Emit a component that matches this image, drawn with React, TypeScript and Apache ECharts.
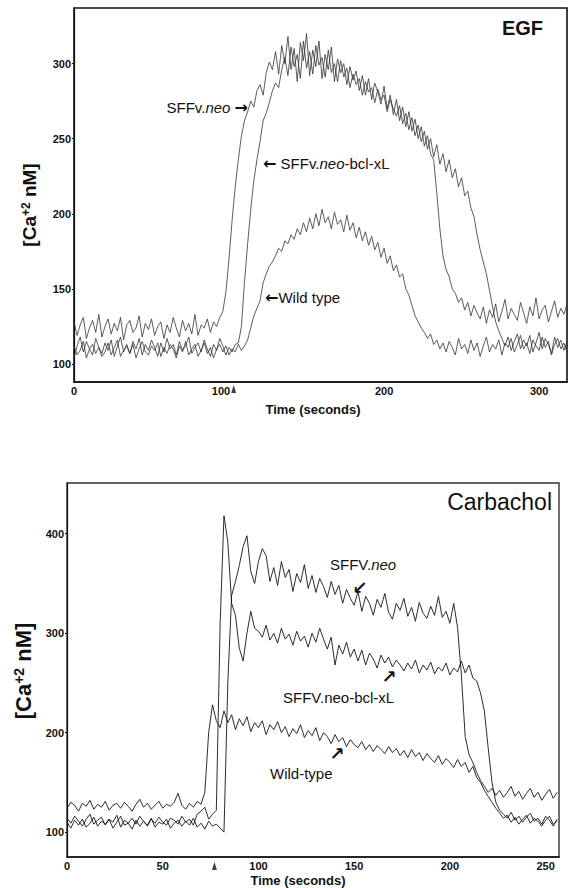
import React, { useEffect, useRef } from "react";
import * as echarts from "echarts";

// ---------- EGF panel (sampled every 2 s) ----------
const EGF_DT = 2;
const EGF_X_TICKS = [0, 100, 200, 300];
const EGF_Y_TICKS = [100, 150, 200, 250, 300];
const EGF_X_MAX = 318;
const EGF_Y_MIN = 88;
const EGF_Y_MAX = 337;
const EGF_STIM = 103;

const EGF_NEO_BASE = [
  128, 119, 126, 131, 117, 124, 129, 121, 133, 118,
  125, 130, 120, 127, 122, 131, 116, 126, 129, 121,
  124, 132, 118, 127, 123, 130, 119, 125, 128, 117,
  126, 121, 131, 124, 118, 129, 122, 127, 120, 133,
  119, 126, 124, 130, 121, 128, 125, 131,
];
const EGF_NEO_RESP = [
  135, 148, 170, 196, 218, 236, 252, 262, 268, 275,
  271, 282, 286, 279, 294, 301, 296, 308, 293, 312,
  300, 318, 296, 310, 288, 314, 302, 320, 292, 309,
  298, 315, 290, 306, 296, 311, 288, 303, 294, 300,
  286, 298, 289, 295, 282, 292, 279, 290, 276, 287,
  281, 273, 285, 270, 279, 266, 276, 262, 271, 258,
  268, 255, 263, 250, 258, 245, 252, 240, 236, 214,
  190, 172, 163, 158, 150, 147, 141, 144, 136, 141,
  132, 139, 134, 130, 138, 127, 136, 131, 140, 128,
  135, 143, 130, 137, 133, 129, 141, 134, 127, 138,
  132, 144, 130, 136, 139, 128, 135, 142, 131, 137,
  133, 140,
];
const EGF_BCL_BASE = [
  104, 112, 118, 108, 115, 110, 106, 117, 111, 107,
  114, 109, 116, 105, 112, 118, 108, 113, 107, 115,
  110, 117, 106, 113, 109, 116, 111, 105, 114, 108,
  117, 110, 113, 106, 115, 109, 112, 118, 107, 111,
  114, 108, 116, 110, 105, 113, 109, 117, 112, 106,
  111, 108, 113,
];
const EGF_BCL_RESP = [
  114, 125, 155, 180, 203, 222, 236, 248, 262, 267,
  274, 282, 287, 284, 296, 304, 292, 311, 298, 306,
  290, 315, 297, 308, 293, 312, 299, 304, 291, 309,
  294, 300, 288, 302, 291, 297, 284, 293, 286, 290,
  279, 288, 281, 284, 274, 283, 276, 279, 268, 276,
  270, 265, 272, 260, 267, 256, 264, 252, 259, 248,
  255, 243, 250, 238, 246, 233, 240, 228, 236, 224,
  230, 218, 224, 212, 215, 204, 198, 186, 176, 168,
  160, 149, 138, 128, 122, 117, 112, 118, 109, 115,
  120, 110, 116, 112, 119, 108, 114, 121, 110, 117,
  113, 107, 118, 111, 116, 109, 115,
];
const EGF_WT_BASE = [
  112, 106, 109, 115, 104, 110, 113, 107, 111, 105,
  108, 114, 106, 111, 116, 105, 109, 112, 107, 113,
  104, 110, 115, 108, 106, 112, 109, 114, 105, 111,
  107, 113, 110, 104, 112, 108, 115, 106, 110, 113,
  105, 109, 114, 107, 111, 104, 110, 113, 108, 112,
  106, 110, 108, 113, 109,
];
const EGF_WT_RESP = [
  112, 116, 124, 132, 137, 142, 154, 160, 165, 168,
  172, 177, 175, 182, 180, 186, 183, 190, 186, 194,
  188, 197, 190, 200, 192, 203, 194, 198, 190, 201,
  193, 196, 188, 199, 189, 194, 184, 191, 182, 188,
  179, 185, 176, 181, 171, 177, 167, 172, 162, 166,
  158, 160, 150, 146, 139, 132, 128, 124, 121, 117,
  120, 113, 116, 110, 114, 108, 115, 111, 106, 117,
  110, 113, 107, 116, 109, 114, 105, 112, 118, 108,
  113, 110, 116, 106, 114, 111, 117, 108, 113, 119,
  110, 114, 107, 116, 112, 109, 118, 111, 115, 106,
  113, 117, 110, 114, 108,
];

// ---------- Carbachol panel (sampled every 2 s) ----------
const CAR_DT = 2;
const CAR_X_TICKS = [0, 50, 100, 150, 200, 250];
const CAR_Y_TICKS = [100, 200, 300, 400];
const CAR_X_MAX = 257;
const CAR_Y_MIN = 75;
const CAR_Y_MAX = 451;
const CAR_STIM = 77;

const CAR_NEO_BASE = [
  110, 104, 112, 107, 113, 105, 109, 115, 106, 111,
  108, 113, 104, 110, 116, 107, 109, 103, 112, 106,
  111, 107, 114, 105, 110, 108, 113, 104, 109, 112,
  106, 111, 107, 114, 105, 109, 103, 111, 106, 108,
  104, 100,
];
const CAR_NEO_RESP = [
  250, 338, 352, 368, 387, 398, 362, 350, 372, 385,
  378, 352, 366, 348, 372, 356, 364, 342, 360, 351,
  369, 345, 358, 341, 355, 347, 336, 352, 339, 348,
  330, 344, 335, 328, 342, 322, 337, 330, 318, 334,
  326, 340, 321, 314, 330, 323, 335, 317, 326, 312,
  331, 320, 315, 327, 318, 337, 316, 322, 310, 330,
  306, 258, 196, 178, 170, 160, 152, 146, 140, 144,
  137, 142, 135, 140, 146, 136, 141, 133, 139, 144,
  135, 140, 132, 138, 143, 134, 140,
];
const CAR_BCL_BASE = [
  114, 109, 116, 111, 106, 113, 118, 108, 112, 115,
  107, 113, 110, 117, 105, 112, 109, 114, 108, 116,
  111, 106, 113, 109, 115, 110, 107, 114, 112, 108,
  116, 110, 113, 107, 118, 121, 125, 113, 118,
];
const CAR_BCL_RESP = [
  122, 310, 418, 392, 330, 318, 285, 272, 300, 322,
  305, 302, 296, 308, 293, 300, 290, 305, 294, 299,
  288, 302, 292, 297, 286, 300, 291, 305, 294, 284,
  296, 268, 288, 279, 291, 276, 284, 272, 283, 268,
  280, 274, 265, 278, 270, 276, 266, 273, 268, 262,
  270, 264, 273, 260, 268, 263, 271, 259, 266, 262,
  270, 258, 265, 261, 272, 260, 268, 255, 252, 240,
  222, 185, 150, 130, 122, 118, 114, 120, 112, 116,
  110, 115, 119, 111, 114, 108, 116, 112, 106, 113,
];
const CAR_WT_BASE = [
  124, 130, 127, 121, 129, 126, 132, 123, 128, 125,
  131, 122, 127, 129, 124, 130, 126, 121, 128, 133,
  125, 129, 123, 127, 131, 124, 128, 126, 130, 139,
  127, 123, 129, 125, 131, 128,
];
const CAR_WT_RESP = [
  140, 200, 228, 212, 205, 222, 210, 218, 203, 214,
  207, 216, 201, 210, 205, 212, 198, 208, 203, 211,
  200, 206, 196, 204, 199, 208, 195, 202, 197, 205,
  192, 200, 196, 189, 198, 191, 195, 186, 193, 188,
  185, 191, 183, 188, 181, 187, 183, 179, 186, 180,
  184, 177, 182, 175, 183, 176, 180, 172, 179, 174,
  170, 177, 168, 174, 170, 165, 173, 166, 170, 160,
  166, 155, 150, 142, 136, 130, 124, 119, 114, 117,
  110, 115, 108, 113, 117, 109, 114, 111, 106, 112,
  116, 108, 111,
];

const EGF_NEO = [...EGF_NEO_BASE, ...EGF_NEO_RESP];
const EGF_BCL = [...EGF_BCL_BASE, ...EGF_BCL_RESP];
const EGF_WT = [...EGF_WT_BASE, ...EGF_WT_RESP];
const CAR_NEO = [...CAR_NEO_BASE, ...CAR_NEO_RESP];
const CAR_BCL = [...CAR_BCL_BASE, ...CAR_BCL_RESP];
const CAR_WT = [...CAR_WT_BASE, ...CAR_WT_RESP];

const FONT = 'Arial, "Liberation Sans", Helvetica, sans-serif';
const ARROW_FONT = '"DejaVu Sans", sans-serif';

const toPairs = (vals: number[], dt: number) => vals.map((v, i) => [i * dt, v]);

const tickRich = {
  p: { padding: [0, 16, 0, 0], fontFamily: FONT, fontWeight: "bold", fontSize: 11, color: "#111" },
};

function axisX(grid: number, max: number, ticks: number[], shifted: number | null) {
  return {
    type: "value",
    gridIndex: grid,
    min: 0,
    max,
    axisLine: { show: true, onZero: false, lineStyle: { color: "#111", width: 1.6 } },
    axisTick: { show: false },
    splitLine: { show: false },
    axisLabel: {
      customValues: ticks,
      fontFamily: FONT,
      fontWeight: "bold",
      fontSize: 11,
      color: "#111",
      margin: 3,
      formatter: (v: number) => (v === shifted ? `{p|${v}}` : String(v)),
      rich: tickRich,
    },
  };
}
function axisY(grid: number, min: number, max: number, ticks: number[]) {
  return {
    type: "value",
    gridIndex: grid,
    min,
    max,
    axisLine: { show: true, onZero: false, lineStyle: { color: "#111", width: 1.2 } },
    axisTick: { show: true, customValues: ticks, length: 2, lineStyle: { color: "#111" } },
    splitLine: { show: false },
    axisLabel: {
      customValues: ticks,
      fontFamily: FONT,
      fontWeight: "bold",
      fontSize: 11,
      color: "#111",
      margin: 3,
    },
  };
}
function trace(name: string, grid: number, vals: number[], dt: number, color: string, width: number) {
  return {
    name,
    type: "line",
    xAxisIndex: grid,
    yAxisIndex: grid,
    data: toPairs(vals, dt),
    showSymbol: false,
    symbol: "none",
    lineStyle: { color, width },
    silent: true,
  };
}
function stim(grid: number, t: number, yMin: number, offset: number) {
  return {
    type: "scatter",
    xAxisIndex: grid,
    yAxisIndex: grid,
    data: [[t, yMin]],
    symbol: "triangle",
    symbolSize: [5, 8],
    symbolOffset: [0, offset],
    itemStyle: { color: "#111" },
    clip: false,
    silent: true,
  };
}

const rich = (size: number, bold: boolean) => ({
  a: { fontSize: size, fontFamily: FONT, fontWeight: bold ? "bold" : "normal", fill: "#111" },
  i: { fontSize: size, fontFamily: FONT, fontStyle: "italic", fill: "#111" },
  r: { fontSize: size + 1, fontFamily: ARROW_FONT, fontWeight: "bold", fill: "#111" },
  d: { fontSize: size + 3, fontFamily: ARROW_FONT, fontWeight: "bold", fill: "#111" },
  s: { fontSize: Math.round(size * 0.62), fontFamily: FONT, fontWeight: bold ? "bold" : "normal", verticalAlign: "top", fill: "#111" },
});

function label(x: number, y: number, text: string, size: number, align: string, bold = false) {
  return {
    type: "text",
    x,
    y,
    silent: true,
    style: {
      text,
      rich: rich(size, bold),
      align,
      verticalAlign: "middle",
      fill: "#111",
    },
  };
}
function yName(x: number, y: number, size: number) {
  return {
    type: "text",
    x,
    y,
    rotation: Math.PI / 2,
    silent: true,
    style: {
      text: "{a|[Ca}{s|+2}{a| nM]}",
      rich: rich(size, true),
      align: "center",
      verticalAlign: "middle",
    },
  };
}

export default function App() {
  const ref = useRef<HTMLDivElement>(null);
  useEffect(() => {
    document.body.style.margin = "0";
    if (!ref.current) return;
    const chart = echarts.init(ref.current, undefined, { renderer: "svg" });
    chart.setOption({
      animation: false,
      backgroundColor: "#fff",
      grid: [
        { left: 74, top: 8, width: 493, height: 374, show: true, borderColor: "#111", borderWidth: 1.6, backgroundColor: "transparent" },
        { left: 67, top: 483, width: 492, height: 374, show: true, borderColor: "#333", borderWidth: 1.4, backgroundColor: "transparent" },
      ],
      xAxis: [axisX(0, EGF_X_MAX, EGF_X_TICKS, 100), axisX(1, CAR_X_MAX, CAR_X_TICKS, null)],
      yAxis: [axisY(0, EGF_Y_MIN, EGF_Y_MAX, EGF_Y_TICKS), axisY(1, CAR_Y_MIN, CAR_Y_MAX, CAR_Y_TICKS)],
      series: [
        trace("SFFv.neo", 0, EGF_NEO, EGF_DT, "#333", 0.8),
        trace("SFFv.neo-bcl-xL", 0, EGF_BCL, EGF_DT, "#333", 0.8),
        trace("Wild type", 0, EGF_WT, EGF_DT, "#333", 0.8),
        trace("SFFV.neo", 1, CAR_NEO, CAR_DT, "#151515", 0.9),
        trace("SFFV.neo-bcl-xL", 1, CAR_BCL, CAR_DT, "#151515", 0.9),
        trace("Wild-type", 1, CAR_WT, CAR_DT, "#151515", 0.9),
        stim(0, EGF_STIM, EGF_Y_MIN, 7),
        stim(1, CAR_STIM, CAR_Y_MIN, 9),
      ],
      graphic: [
        label(543, 28, "{a|EGF}", 20, "right", true),
        label(552, 502, "{a|Carbachol}", 23, "right"),
        yName(29, 205, 19),
        yName(23, 671, 22),
        label(313, 409, "{a|Time (seconds)}", 13, "center", true),
        label(298, 880, "{a|Time (seconds)}", 13, "center", true),
        label(248, 107, "{a|SFFv.}{i|neo}{a| }{r|→}", 15, "right"),
        label(263, 163, "{r|←}{a| SFFv.}{i|neo}{a|-bcl-xL}", 15, "left"),
        label(265, 297, "{r|←}{a|Wild type}", 15, "left"),
        label(330, 564, "{a|SFFV.}{i|neo}", 15, "left"),
        label(360, 587, "{d|↙}", 15, "center"),
        label(389, 676, "{d|↗}", 15, "center"),
        label(283, 697, "{a|SFFV.neo-bcl-xL}", 15, "left"),
        label(337, 753, "{d|↗}", 15, "center"),
        label(270, 773, "{a|Wild-type}", 15, "left"),
      ],
    });
    return () => chart.dispose();
  }, []);
  return <div ref={ref} style={{ width: 570, height: 888, position: "absolute", left: 0, top: 0 }} />;
}
